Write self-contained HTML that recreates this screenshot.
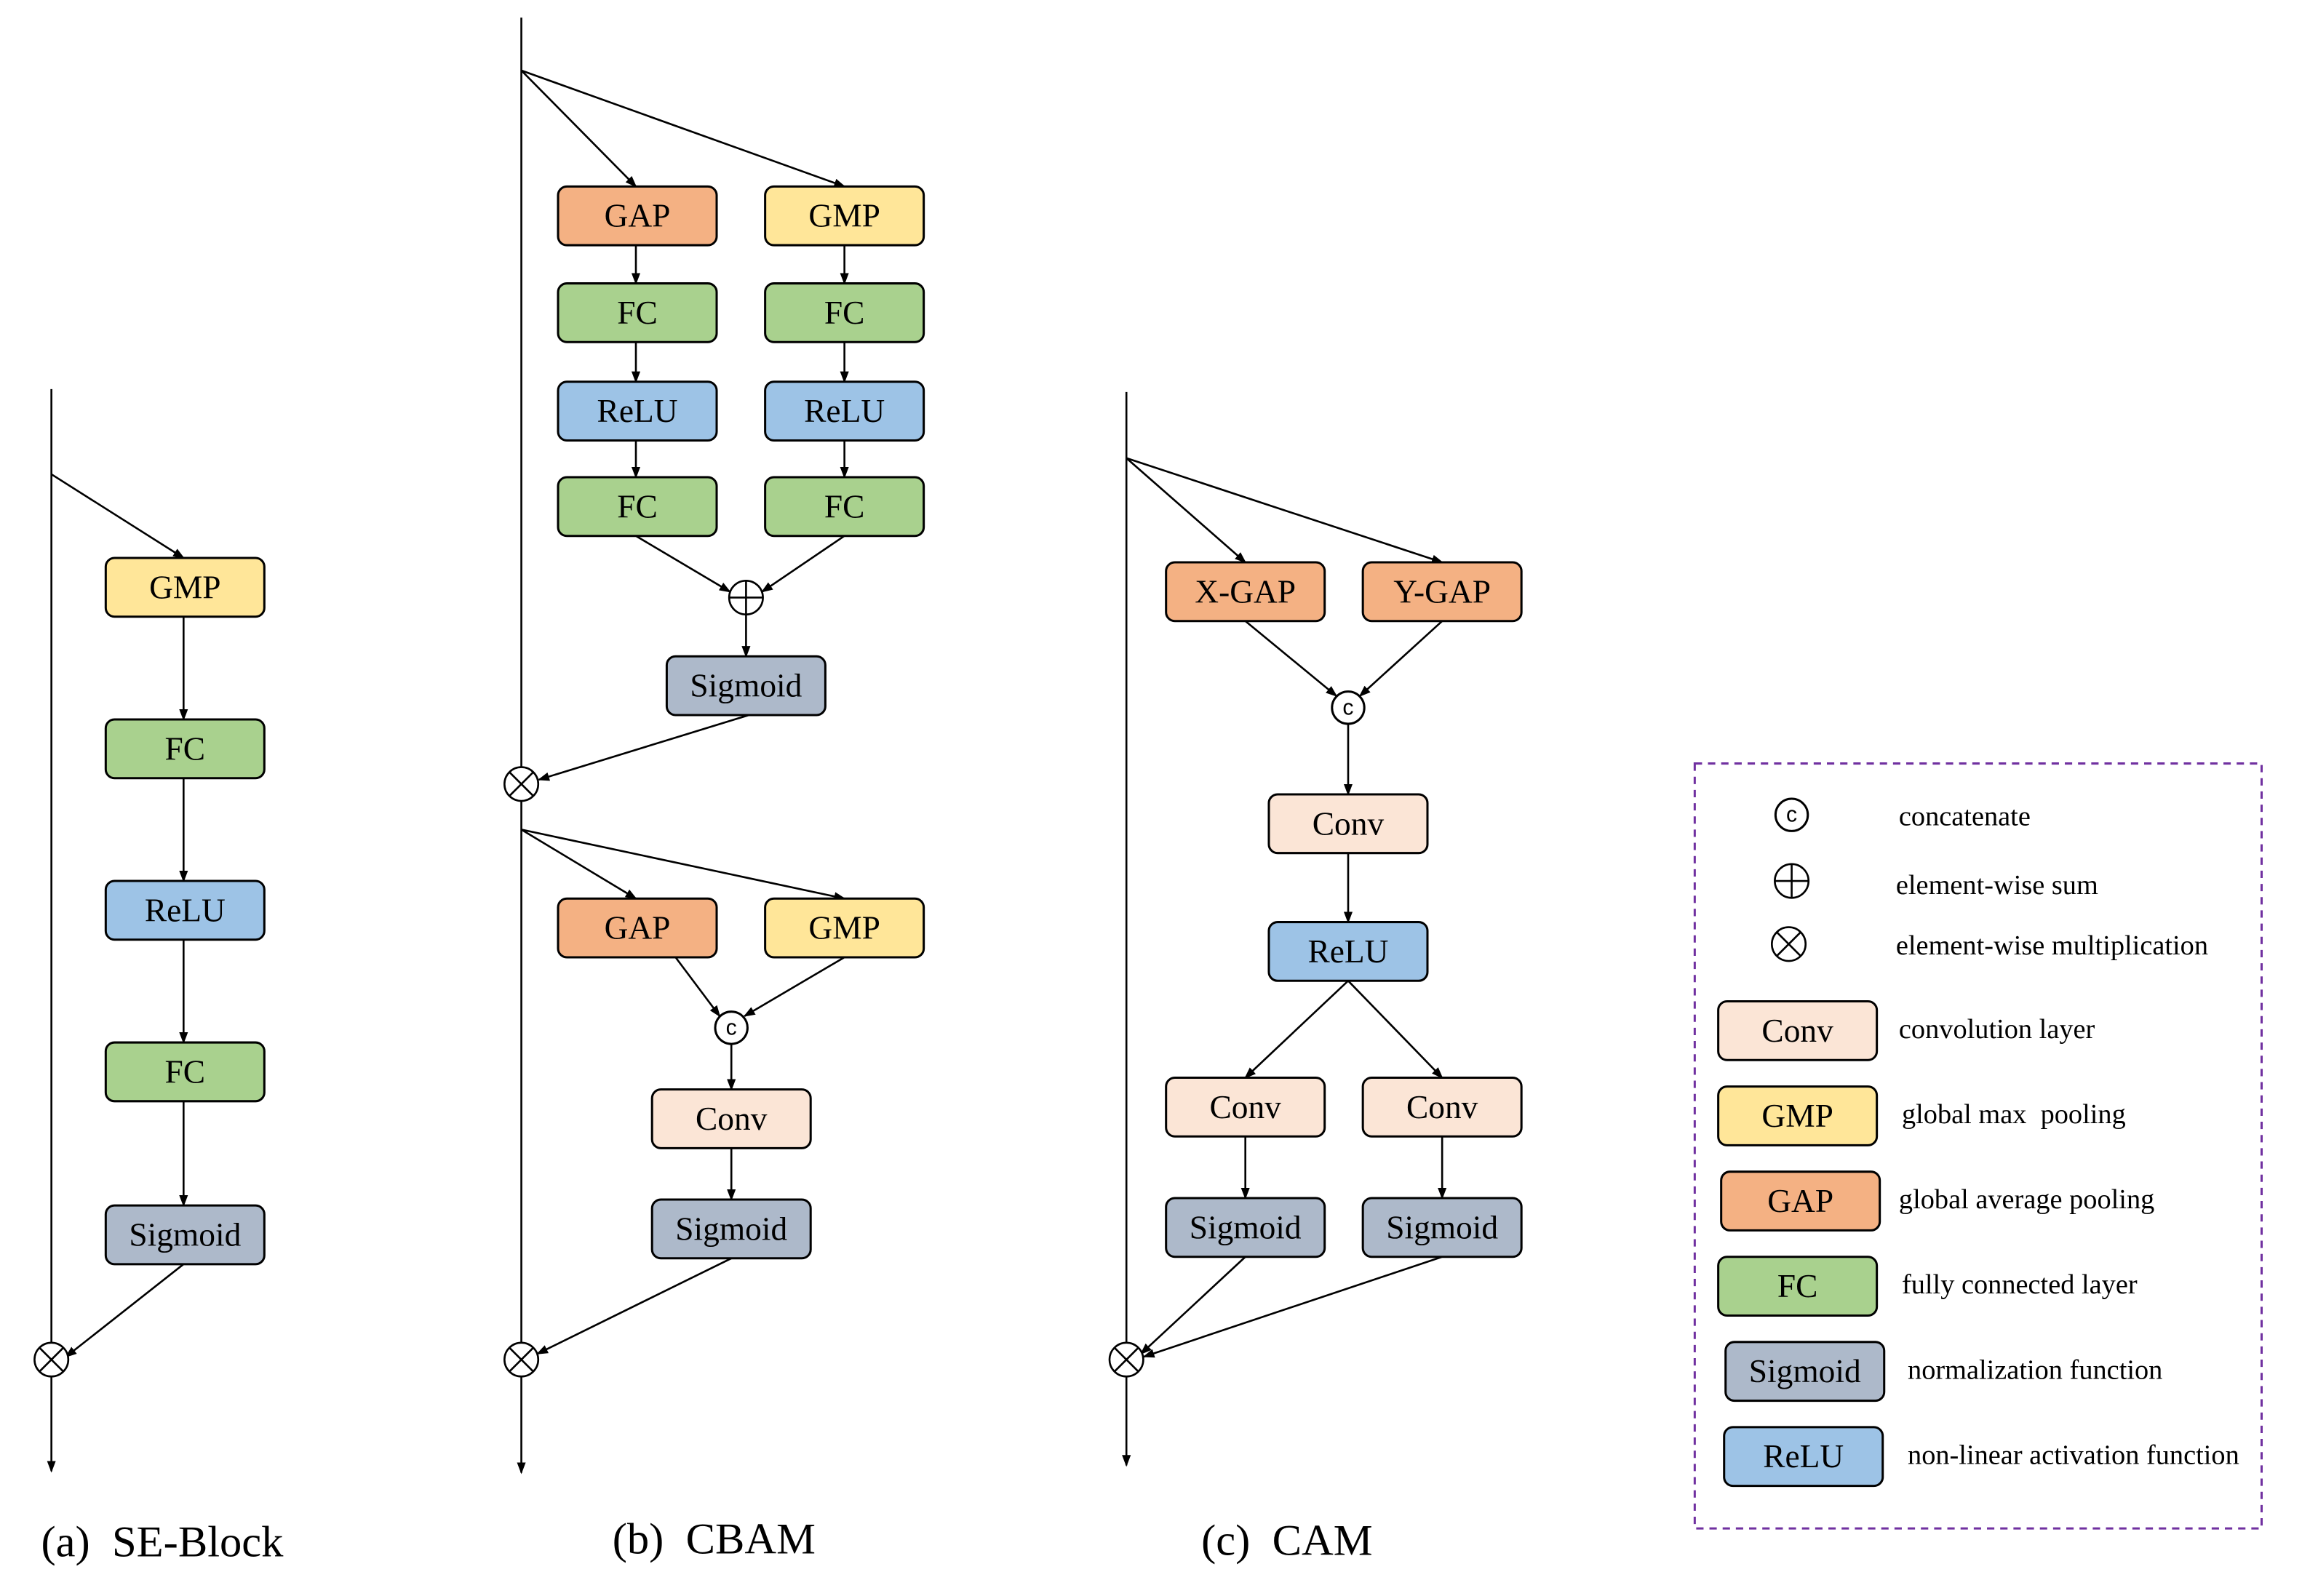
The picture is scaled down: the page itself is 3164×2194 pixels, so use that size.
<!DOCTYPE html>
<html><head><meta charset="utf-8"><style>html,body{margin:0;padding:0;background:#fff}svg{display:block}</style></head>
<body>
<svg xmlns="http://www.w3.org/2000/svg" width="3164" height="2194" viewBox="0 0 1567.5 1087" preserveAspectRatio="none" font-family="Liberation Serif, serif">
<defs>
<marker id="a" markerWidth="8" markerHeight="8" refX="7" refY="4" orient="auto" markerUnits="userSpaceOnUse"><path d="M0,1 L8,4 L0,7 Z" fill="#000"/></marker>
<symbol id="ot" viewBox="-12 -12 24 24" overflow="visible"><circle r="11.5" fill="#fff" stroke="#000" stroke-width="1.3"/><path d="M-8,-8L8,8M-8,8L8,-8" stroke="#000" stroke-width="1.3"/></symbol>
<symbol id="op" viewBox="-12 -12 24 24" overflow="visible"><circle r="11.5" fill="#fff" stroke="#000" stroke-width="1.3"/><path d="M-11.5,0H11.5M0,-11.5V11.5" stroke="#000" stroke-width="1.3"/></symbol>
</defs>
<style>
.l{stroke:#000;stroke-width:1.3;fill:none}
.b{stroke:#000;stroke-width:1.5}
.t{font-size:22.5px;text-anchor:middle;dominant-baseline:central}
.g{font-size:19px}
.c{font-size:15px;text-anchor:middle;dominant-baseline:central;font-family:Liberation Sans,sans-serif}
</style>
<g class="l">
<path d="M35,265V914"/><path d="M35,938V1002" marker-end="url(#a)"/>
<path d="M35,323L125,380" marker-end="url(#a)"/>
<path d="M125,420V490" marker-end="url(#a)"/><path d="M125,530V600" marker-end="url(#a)"/>
<path d="M125,640V710" marker-end="url(#a)"/><path d="M125,750V821" marker-end="url(#a)"/>
<path d="M125,861L45,924" marker-end="url(#a)"/>
<path d="M355,12V522"/><path d="M355,546V914"/><path d="M355,938V1003" marker-end="url(#a)"/>
<path d="M355,48L433,127" marker-end="url(#a)"/><path d="M355,48L575,127" marker-end="url(#a)"/>
<path d="M433,167V193" marker-end="url(#a)"/><path d="M575,167V193" marker-end="url(#a)"/>
<path d="M433,233V260" marker-end="url(#a)"/><path d="M575,233V260" marker-end="url(#a)"/>
<path d="M433,300V325" marker-end="url(#a)"/><path d="M575,300V325" marker-end="url(#a)"/>
<path d="M433,365L497,403" marker-end="url(#a)"/><path d="M575,365L519,403" marker-end="url(#a)"/>
<path d="M508,419V447" marker-end="url(#a)"/>
<path d="M510,487L367,531" marker-end="url(#a)"/>
<path d="M355,565L433,612" marker-end="url(#a)"/><path d="M355,565L575,612" marker-end="url(#a)"/>
<path d="M460,652L490,692" marker-end="url(#a)"/><path d="M575,652L507,692" marker-end="url(#a)"/>
<path d="M498,711V742" marker-end="url(#a)"/><path d="M498,782V817" marker-end="url(#a)"/>
<path d="M498,857L366,922" marker-end="url(#a)"/>
<path d="M767,267V914"/><path d="M767,938V998" marker-end="url(#a)"/>
<path d="M767,312L848,383" marker-end="url(#a)"/><path d="M767,312L982,383" marker-end="url(#a)"/>
<path d="M848,423L910,474" marker-end="url(#a)"/><path d="M982,423L926,474" marker-end="url(#a)"/>
<path d="M918,493V541" marker-end="url(#a)"/><path d="M918,581V628" marker-end="url(#a)"/>
<path d="M918,668L848,734" marker-end="url(#a)"/><path d="M918,668L982,734" marker-end="url(#a)"/>
<path d="M848,774V816" marker-end="url(#a)"/><path d="M982,774V816" marker-end="url(#a)"/>
<path d="M848,856L777,922" marker-end="url(#a)"/><path d="M982,856L779,924" marker-end="url(#a)"/>
</g>
<use href="#ot" x="23" y="914" width="24" height="24"/>
<use href="#ot" x="343" y="522" width="24" height="24"/>
<use href="#ot" x="343" y="914" width="24" height="24"/>
<use href="#ot" x="755" y="914" width="24" height="24"/>
<use href="#op" x="496" y="395" width="24" height="24"/>
<circle cx="498" cy="700" r="11" fill="#fff" class="b" stroke-width="1.3"/><text x="498" y="700" class="c">c</text>
<circle cx="918" cy="482" r="11" fill="#fff" class="b" stroke-width="1.3"/><text x="918" y="482" class="c">c</text>
<g class="b">
<rect x="72" y="380" width="108" height="40" rx="6" fill="#ffe699"/>
<rect x="72" y="490" width="108" height="40" rx="6" fill="#a9d18e"/>
<rect x="72" y="600" width="108" height="40" rx="6" fill="#9dc3e6"/>
<rect x="72" y="710" width="108" height="40" rx="6" fill="#a9d18e"/>
<rect x="72" y="821" width="108" height="40" rx="6" fill="#adb9ca"/>
<rect x="380" y="127" width="108" height="40" rx="6" fill="#f4b183"/>
<rect x="521" y="127" width="108" height="40" rx="6" fill="#ffe699"/>
<rect x="380" y="193" width="108" height="40" rx="6" fill="#a9d18e"/>
<rect x="521" y="193" width="108" height="40" rx="6" fill="#a9d18e"/>
<rect x="380" y="260" width="108" height="40" rx="6" fill="#9dc3e6"/>
<rect x="521" y="260" width="108" height="40" rx="6" fill="#9dc3e6"/>
<rect x="380" y="325" width="108" height="40" rx="6" fill="#a9d18e"/>
<rect x="521" y="325" width="108" height="40" rx="6" fill="#a9d18e"/>
<rect x="454" y="447" width="108" height="40" rx="6" fill="#adb9ca"/>
<rect x="380" y="612" width="108" height="40" rx="6" fill="#f4b183"/>
<rect x="521" y="612" width="108" height="40" rx="6" fill="#ffe699"/>
<rect x="444" y="742" width="108" height="40" rx="6" fill="#fbe5d6"/>
<rect x="444" y="817" width="108" height="40" rx="6" fill="#adb9ca"/>
<rect x="794" y="383" width="108" height="40" rx="6" fill="#f4b183"/>
<rect x="928" y="383" width="108" height="40" rx="6" fill="#f4b183"/>
<rect x="864" y="541" width="108" height="40" rx="6" fill="#fbe5d6"/>
<rect x="864" y="628" width="108" height="40" rx="6" fill="#9dc3e6"/>
<rect x="794" y="734" width="108" height="40" rx="6" fill="#fbe5d6"/>
<rect x="928" y="734" width="108" height="40" rx="6" fill="#fbe5d6"/>
<rect x="794" y="816" width="108" height="40" rx="6" fill="#adb9ca"/>
<rect x="928" y="816" width="108" height="40" rx="6" fill="#adb9ca"/>
<rect x="1170" y="682" width="108" height="40" rx="6" fill="#fbe5d6"/>
<rect x="1170" y="740" width="108" height="40" rx="6" fill="#ffe699"/>
<rect x="1172" y="798" width="108" height="40" rx="6" fill="#f4b183"/>
<rect x="1170" y="856" width="108" height="40" rx="6" fill="#a9d18e"/>
<rect x="1175" y="914" width="108" height="40" rx="6" fill="#adb9ca"/>
<rect x="1174" y="972" width="108" height="40" rx="6" fill="#9dc3e6"/>
</g>
<g class="t">
<text x="126" y="400">GMP</text><text x="126" y="510">FC</text><text x="126" y="620">ReLU</text><text x="126" y="730">FC</text><text x="126" y="841">Sigmoid</text>
<text x="434" y="147">GAP</text><text x="575" y="147">GMP</text>
<text x="434" y="213">FC</text><text x="575" y="213">FC</text>
<text x="434" y="280">ReLU</text><text x="575" y="280">ReLU</text>
<text x="434" y="345">FC</text><text x="575" y="345">FC</text>
<text x="508" y="467">Sigmoid</text>
<text x="434" y="632">GAP</text><text x="575" y="632">GMP</text>
<text x="498" y="762">Conv</text><text x="498" y="837">Sigmoid</text>
<text x="848" y="403">X-GAP</text><text x="982" y="403">Y-GAP</text>
<text x="918" y="561">Conv</text><text x="918" y="648">ReLU</text>
<text x="848" y="754">Conv</text><text x="982" y="754">Conv</text>
<text x="848" y="836">Sigmoid</text><text x="982" y="836">Sigmoid</text>
<text x="1224" y="702">Conv</text><text x="1224" y="760">GMP</text><text x="1226" y="818">GAP</text>
<text x="1224" y="876">FC</text><text x="1229" y="934">Sigmoid</text><text x="1228" y="992">ReLU</text>
</g>
<g font-size="30">
<text x="28" y="1060" xml:space="preserve">(a)  SE-Block</text>
<text x="417" y="1058" xml:space="preserve">(b)  CBAM</text>
<text x="818" y="1059" xml:space="preserve">(c)  CAM</text>
</g>
<rect x="1154" y="520" width="386" height="521" fill="none" stroke="#7030a0" stroke-width="1.5" stroke-dasharray="5,4"/>
<circle cx="1220" cy="555" r="11" fill="#fff" class="b" stroke-width="1.3"/><text x="1220" y="555" class="c">c</text>
<use href="#op" x="1208" y="588" width="24" height="24"/>
<use href="#ot" x="1206" y="631" width="24" height="24"/>
<g class="g">
<text x="1293" y="562">concatenate</text>
<text x="1291" y="609">element-wise sum</text>
<text x="1291" y="650">element-wise multiplication</text>
<text x="1293" y="707">convolution layer</text>
<text x="1295" y="765" xml:space="preserve">global max  pooling</text>
<text x="1293" y="823">global average pooling</text>
<text x="1295" y="881">fully connected layer</text>
<text x="1299" y="939">normalization function</text>
<text x="1299" y="997">non-linear activation function</text>
</g>
</svg>
</body></html>
